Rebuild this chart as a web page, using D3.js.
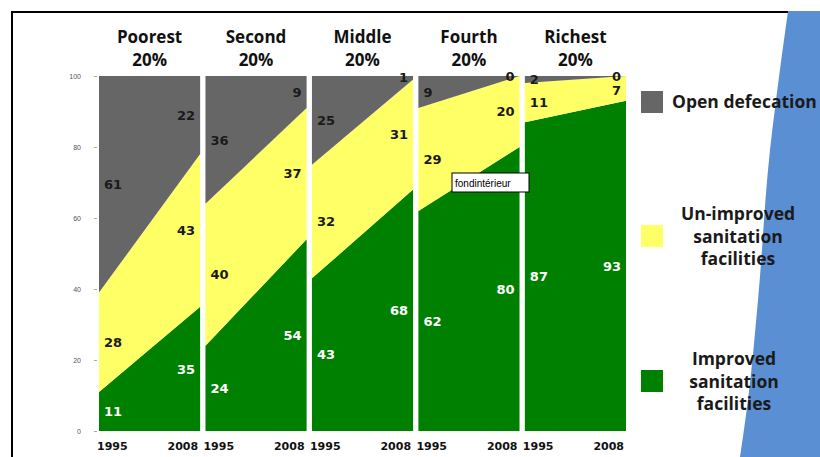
<!DOCTYPE html>
<html>
<head>
<meta charset="utf-8">
<script src="https://cdn.jsdelivr.net/npm/d3@7"></script>
<style>
  body { margin: 0; background: #fff; }
  svg { display: block; }
</style>
</head>
<body>
<svg id="chart" width="820" height="457"></svg>
<script>
// quintile groups, each with a 1995 and a 2008 value
const groups = ["Poorest", "Second", "Middle", "Fourth", "Richest"];
const groupSub = "20%";
const years = [1995, 2008];
const improved = [[11, 35], [24, 54], [43, 68], [62, 80], [87, 93]];
const unimproved = [[28, 43], [40, 37], [32, 31], [29, 20], [11, 7]];
const openDefecation = [[61, 22], [36, 9], [25, 1], [9, 0], [2, 0]];
const yTicks = [0, 20, 40, 60, 80, 100];
const seriesKeys = ["improved", "unimproved", "open"];
const legendLabels = [
  ["Open defecation"],
  ["Un-improved", "sanitation", "facilities"],
  ["Improved", "sanitation", "facilities"]
];

const colors = { improved: "#008000", unimproved: "#ffff66", open: "#666666" };
const labelColors = { improved: "#ffffff", unimproved: "#1a1a1a", open: "#1a1a1a" };
const boldFont = "'DejaVu Sans', Verdana, sans-serif";
const headFont = "'Open Sans', sans-serif";

let svg = d3.select("#chart");

// frame
svg.append("path")
  .attr("d", "M12,457V12H820")
  .attr("fill", "none")
  .attr("stroke", "#000")
  .attr("stroke-width", 2);

// blue slide decoration on the right
let edge = d3.line().curve(d3.curveMonotoneY)([[788, 11], [776, 100], [770, 150], [758, 300], [748, 400], [740, 457]]);
svg.append("path")
  .attr("d", edge + "L820,457L820,11Z")
  .attr("fill", "#5a8fd3");

let x = d3.scaleBand().domain(groups).range([99, 626]).paddingInner(0.05);
let y = d3.scaleLinear().domain([0, 100]).range([431, 76]);

groups.forEach(function (g, i) {
  let rows = years.map(function (yr, j) {
    return { year: yr, improved: improved[i][j], unimproved: unimproved[i][j], open: openDefecation[i][j] };
  });
  let stacked = d3.stack().keys(seriesKeys)(rows);
  let xi = d3.scaleLinear().domain(d3.extent(years)).range([x(g), x(g) + x.bandwidth()]);

  let area = d3.area()
    .x(d => xi(d.data.year))
    .y0(d => y(d[0]))
    .y1(d => y(d[1]));

  let panel = svg.append("g").attr("class", "panel");

  panel.selectAll("path")
    .data(stacked)
    .enter()
    .append("path")
    .attr("d", area)
    .attr("fill", d => colors[d.key]);

  // value labels at both ends of each layer, pushed apart when layers are thin
  years.forEach(function (yr, j) {
    let first = j === 0;
    let prevY = -Infinity;
    stacked.slice().reverse().forEach(function (layer) {
      let d = layer[j];
      let ly = Math.max(y((d[0] + d[1]) / 2), prevY + 14);
      prevY = ly;
      panel.append("text")
        .attr("x", first ? xi(yr) + 5 : xi(yr) - 5)
        .attr("y", ly)
        .attr("dy", "0.36em")
        .attr("text-anchor", first ? "start" : "end")
        .style("font-family", boldFont)
        .style("font-weight", "bold")
        .style("font-size", "13px")
        .style("fill", labelColors[layer.key])
        .text(d.data[layer.key]);
    });
  });

  // group header
  let cx = x(g) + x.bandwidth() / 2;
  let head = svg.append("text")
    .attr("text-anchor", "middle")
    .style("font-family", headFont)
    .style("font-weight", "bold")
    .style("font-size", "17px")
    .style("fill", "#111");
  head.append("tspan").attr("x", cx).attr("y", 43).text(g);
  head.append("tspan").attr("x", cx).attr("y", 66).text(groupSub);

  // year labels under the panel
  years.forEach(function (yr, j) {
    svg.append("text")
      .attr("x", j === 0 ? x(g) - 2 : x(g) + x.bandwidth() - 2)
      .attr("y", 450)
      .attr("text-anchor", j === 0 ? "start" : "end")
      .style("font-family", boldFont)
      .style("font-weight", "bold")
      .style("font-size", "11px")
      .style("fill", "#111")
      .text(yr);
  });
});

// y axis
let yAxis = svg.append("g")
  .attr("transform", "translate(97,0)")
  .call(d3.axisLeft(y).tickValues(yTicks).tickSize(3).tickPadding(13));
yAxis.select(".domain").remove();
yAxis.selectAll("line").attr("stroke", "#aaa");
yAxis.selectAll("text")
  .style("font-family", "'Liberation Sans', Arial, sans-serif")
  .style("font-size", "7px")
  .style("fill", "#555");

// legend
let legendKeys = ["open", "unimproved", "improved"];
let legendY = [102, 236, 381];
legendKeys.forEach(function (k, i) {
  svg.append("rect")
    .attr("x", 641)
    .attr("y", legendY[i] - 11)
    .attr("width", 22)
    .attr("height", 22)
    .attr("fill", colors[k]);
  let lines = legendLabels[i];
  let t = svg.append("text")
    .style("font-family", headFont)
    .style("font-weight", "bold")
    .style("font-size", "17.5px")
    .style("fill", "#1a1a1a");
  if (lines.length === 1) {
    t.attr("x", 672).attr("y", legendY[i] + 6).text(lines[0]);
  } else {
    t.attr("text-anchor", "middle");
    lines.forEach(function (s, n) {
      t.append("tspan")
        .attr("x", i === 1 ? 738 : 734)
        .attr("y", legendY[i] - 16 + n * 22.5)
        .text(s);
    });
  }
});

// stray tooltip box from the source slide
let tip = svg.append("g").attr("transform", "translate(452,173)");
tip.append("rect")
  .attr("width", 77)
  .attr("height", 19)
  .attr("fill", "#fff")
  .attr("stroke", "#000")
  .attr("stroke-width", 1);
tip.append("text")
  .attr("x", 3)
  .attr("y", 14)
  .style("font-family", "'Liberation Sans', Arial, sans-serif")
  .style("font-size", "10px")
  .style("fill", "#000")
  .text("fondintérieur");
</script>
</body>
</html>
